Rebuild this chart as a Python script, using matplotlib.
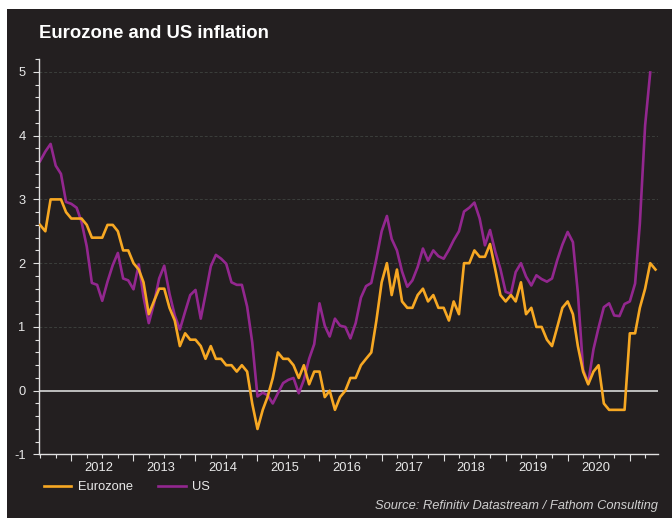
import numpy as np
import pandas as pd
import matplotlib
matplotlib.use("Agg")
import matplotlib.pyplot as plt
import matplotlib.dates as mdates
from matplotlib.patches import Rectangle
from matplotlib.lines import Line2D

# monthly year-on-year inflation, %, from Jul 2011
eurozone = [2.6, 2.5, 3.0, 3.0, 3.0, 2.8, 2.7, 2.7, 2.7, 2.6, 2.4, 2.4,
            2.4, 2.6, 2.6, 2.5, 2.2, 2.2, 2.0, 1.9, 1.7, 1.2, 1.4, 1.6,
            1.6, 1.3, 1.1, 0.7, 0.9, 0.8, 0.8, 0.7, 0.5, 0.7, 0.5, 0.5,
            0.4, 0.4, 0.3, 0.4, 0.3, -0.2, -0.6, -0.3, -0.1, 0.2, 0.6, 0.5,
            0.5, 0.4, 0.2, 0.4, 0.1, 0.3, 0.3, -0.1, 0.0, -0.3, -0.1, 0.0,
            0.2, 0.2, 0.4, 0.5, 0.6, 1.1, 1.7, 2.0, 1.5, 1.9, 1.4, 1.3,
            1.3, 1.5, 1.6, 1.4, 1.5, 1.3, 1.3, 1.1, 1.4, 1.2, 2.0, 2.0,
            2.2, 2.1, 2.1, 2.3, 1.9, 1.5, 1.4, 1.5, 1.4, 1.7, 1.2, 1.3,
            1.0, 1.0, 0.8, 0.7, 1.0, 1.3, 1.4, 1.2, 0.7, 0.3, 0.1, 0.3,
            0.4, -0.2, -0.3, -0.3, -0.3, -0.3, 0.9, 0.9, 1.3, 1.6, 2.0, 1.9]

us = [3.6, 3.75, 3.87, 3.53, 3.4, 2.96, 2.93, 2.87, 2.65, 2.26, 1.69, 1.66,
      1.41, 1.71, 1.97, 2.16, 1.76, 1.73, 1.59, 1.98, 1.47, 1.06, 1.36, 1.76,
      1.96, 1.52, 1.18, 0.96, 1.24, 1.5, 1.58, 1.13, 1.51, 1.95, 2.13, 2.07,
      1.99, 1.7, 1.66, 1.66, 1.32, 0.76, -0.09, -0.03, -0.07, -0.2, -0.04, 0.12,
      0.17, 0.2, -0.04, 0.17, 0.5, 0.73, 1.37, 1.02, 0.85, 1.13, 1.02, 1.0,
      0.82, 1.06, 1.46, 1.64, 1.69, 2.07, 2.5, 2.74, 2.38, 2.2, 1.87, 1.63,
      1.73, 1.94, 2.23, 2.04, 2.2, 2.11, 2.07, 2.21, 2.36, 2.5, 2.81, 2.87,
      2.95, 2.7, 2.28, 2.52, 2.18, 1.91, 1.55, 1.52, 1.86, 2.0, 1.79, 1.65,
      1.81, 1.75, 1.71, 1.76, 2.05, 2.29, 2.49, 2.33, 1.54, 0.33, 0.12, 0.65,
      0.99, 1.31, 1.37, 1.18, 1.17, 1.36, 1.4, 1.68, 2.62, 4.16, 4.99]

years = list(range(2012, 2021))

BG = "#231f20"
ORANGE = "#f7a823"
PURPLE = "#93278f"
TXT = "#e8e8e8"

euro_dates = pd.date_range("2011-07-01", periods=len(eurozone), freq="MS")
us_dates = pd.date_range("2011-07-01", periods=len(us), freq="MS")

plt.rcParams["font.family"] = ["Liberation Sans", "DejaVu Sans"]
plt.rcParams["axes.unicode_minus"] = False

fig = plt.figure(figsize=(6.72, 5.23), dpi=100, facecolor="white")
fig.patches.append(Rectangle((7 / 672, 1 - 518 / 523), 1 - 7 / 672, (518 - 9) / 523,
                             transform=fig.transFigure, facecolor=BG,
                             edgecolor="none", zorder=-10))

ax = fig.add_axes([0.0576, 0.131, 0.9216, 0.756])
ax.set_zorder(2)
ax.patch.set_alpha(0)

ax.plot(euro_dates, eurozone, color=ORANGE, lw=1.9, zorder=3)
ax.plot(us_dates, us, color=PURPLE, lw=1.9, zorder=2)

ax.set_ylim(-1, 5.2)
ax.set_xlim(pd.Timestamp("2011-06-23"), pd.Timestamp("2021-06-16"))

# grid and zero line
for yv in range(1, 6):
    ax.axhline(yv, color="#3b3e3b", lw=0.7, ls=(0, (3, 2)), zorder=1)
ax.axhline(0, color="#d8d8d8", lw=1.2, zorder=1)

for s in ["top", "right"]:
    ax.spines[s].set_visible(False)
for s in ["left", "bottom"]:
    ax.spines[s].set_color("#e0e0e0")
    ax.spines[s].set_linewidth(1.0)

ax.set_yticks(range(-1, 6))
ax.yaxis.set_minor_locator(matplotlib.ticker.MultipleLocator(0.2))
ax.tick_params(axis="y", which="major", colors="#e0e0e0", length=4, width=0.8,
               labelcolor=TXT, labelsize=9.3, pad=5.5)
ax.tick_params(axis="y", which="minor", colors="#e0e0e0", length=3, width=0.8)

ax.xaxis.set_major_locator(mdates.YearLocator())
ax.xaxis.set_minor_locator(mdates.MonthLocator(bymonth=[4, 7, 10]))
ax.xaxis.set_major_formatter(matplotlib.ticker.NullFormatter())
ax.tick_params(axis="x", which="major", colors="#e0e0e0", length=5, width=0.8)
ax.tick_params(axis="x", which="minor", colors="#e0e0e0", length=3, width=0.8)

for y in years:
    ax.text(pd.Timestamp(f"{y}-06-12"), -0.019, str(y), transform=ax.get_xaxis_transform(),
            ha="center", va="top", color=TXT, fontsize=9.3)

fig.text(39 / 672, 1 - 33 / 523, "Eurozone and US inflation", color="white",
         fontsize=13.3, fontweight="bold", va="center", ha="left")

handles = [Line2D([], [], color=ORANGE, lw=1.9), Line2D([], [], color=PURPLE, lw=1.9)]
fig.legend(handles, ["Eurozone", "US"], loc="center left",
           bbox_to_anchor=(44 / 672, 1 - 487 / 523), ncol=2, frameon=False,
           fontsize=9.3, labelcolor=TXT, handlelength=2.1, handletextpad=0.5,
           columnspacing=2.0, borderpad=0, borderaxespad=0)

fig.text(658 / 672, 1 - 506 / 523, "Source: Refinitiv Datastream / Fathom Consulting",
         color="#cfcfcf", fontsize=9.3, style="italic", ha="right", va="center")

fig.savefig("out.png", dpi=100, facecolor=fig.get_facecolor())
